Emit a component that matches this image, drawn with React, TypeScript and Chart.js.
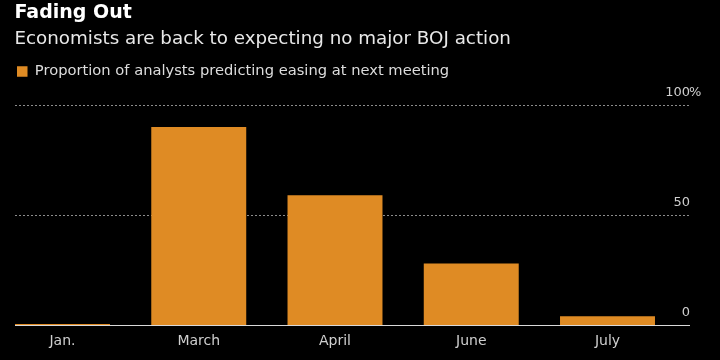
import React, { useEffect, useRef } from 'react';
import { Chart, registerables } from 'chart.js';

Chart.register(...registerables);

// ---- data ----
const categories = ['Jan.', 'March', 'April', 'June', 'July'];
const easingShare = [0.5, 90, 59, 28, 4];
const yTickValues = [0, 50, 100];
const seriesLabel = 'Proportion of analysts predicting easing at next meeting';
const titleText = 'Fading Out';
const subtitleText = 'Economists are back to expecting no major BOJ action';

const FONT = "'DejaVu Sans', 'Noto Sans', sans-serif";
const BAR_COLOR = '#DF8B24';
const GRID_LEFT = 15;
const GRID_RIGHT = 690;

const gridPlugin = {
  id: 'bbgGrid',
  beforeDatasetsDraw(chart: any) {
    const { ctx } = chart;
    const y = chart.scales.y;
    ctx.save();
    yTickValues.forEach((v) => {
      const py = Math.round(y.getPixelForValue(v));
      if (v === 0) {
        ctx.fillStyle = '#d9d9d9';
        ctx.fillRect(GRID_LEFT, py, GRID_RIGHT - GRID_LEFT, 1);
      } else {
        ctx.strokeStyle = '#8c8c8c';
        ctx.lineWidth = 1;
        ctx.setLineDash([2, 2]);
        ctx.beginPath();
        ctx.moveTo(GRID_LEFT, py + 0.5);
        ctx.lineTo(GRID_RIGHT, py + 0.5);
        ctx.stroke();
        ctx.setLineDash([]);
      }
      ctx.fillStyle = '#cfcfcf';
      ctx.font = `13px ${FONT}`;
      ctx.textBaseline = 'alphabetic';
      ctx.textAlign = 'right';
      ctx.fillText(String(v), GRID_RIGHT, py - 9.5);
      if (v === 100) {
        ctx.textAlign = 'left';
        ctx.fillText('%', GRID_RIGHT - 1, py - 9.5);
      }
    });
    ctx.restore();
  },
};

export default function App() {
  const ref = useRef<HTMLCanvasElement>(null);
  useEffect(() => {
    const chart = new Chart(ref.current as HTMLCanvasElement, {
      type: 'bar',
      data: {
        labels: categories,
        datasets: [
          {
            label: seriesLabel,
            data: easingShare,
            backgroundColor: BAR_COLOR,
            borderWidth: 0,
            barPercentage: 0.697,
            categoryPercentage: 1,
            clip: false as any,
          },
        ],
      },
      options: {
        responsive: false,
        animation: false,
        devicePixelRatio: 1,
        layout: { padding: { left: 14.5, right: 0, top: 1.3, bottom: 10.2 } },
        scales: {
          x: {
            type: 'category',
            position: 'bottom',
            offset: false,
            grid: { display: false },
            border: { display: false },
            ticks: {
              color: '#cfcfcf',
              font: { family: FONT, size: 14, lineHeight: 1.2 },
              padding: 0,
              maxRotation: 0,
              autoSkip: false,
            },
          },
          xTop: {
            type: 'category',
            position: 'top',
            offset: false,
            grid: { display: false },
            border: { display: false },
            ticks: { display: false },
            afterFit: (s: any) => {
              s.height = 16.15;
            },
          },
          y: {
            position: 'left',
            min: 0,
            max: 100,
            grid: { display: false },
            border: { display: false },
            ticks: { display: false },
            afterFit: (s: any) => {
              s.width = 48;
            },
          },
          yRight: {
            position: 'right',
            min: 0,
            max: 100,
            grid: { display: false },
            border: { display: false },
            ticks: { display: false },
            afterFit: (s: any) => {
              s.width = 112.5;
            },
          },
        },
        plugins: {
          tooltip: { enabled: false },
          title: {
            display: true,
            text: titleText,
            align: 'start',
            color: '#ffffff',
            font: { family: FONT, size: 19, weight: 'bold', lineHeight: 1.2 },
            padding: { top: 0, bottom: 0 },
          },
          subtitle: {
            display: true,
            text: subtitleText,
            align: 'start',
            color: '#e8e8e8',
            font: { family: FONT, size: 18.3, weight: 'normal', lineHeight: 1.2 },
            padding: { top: 3.9, bottom: 11.7 },
          },
          legend: {
            display: true,
            position: 'top',
            align: 'start',
            labels: {
              boxWidth: 10.5,
              boxHeight: 10.5,
              padding: 2.5,
              color: '#dcdcdc',
              font: { family: FONT, size: 14.7 },
            },
          },
        },
      } as any,
      plugins: [gridPlugin],
    });
    return () => chart.destroy();
  }, []);

  return (
    <div
      style={{
        position: 'fixed',
        left: 0,
        top: 0,
        width: 720,
        height: 360,
        background: '#000',
      }}
    >
      <canvas
        ref={ref}
        width={720}
        height={360}
        style={{ display: 'block', width: 720, height: 360 }}
      />
    </div>
  );
}
